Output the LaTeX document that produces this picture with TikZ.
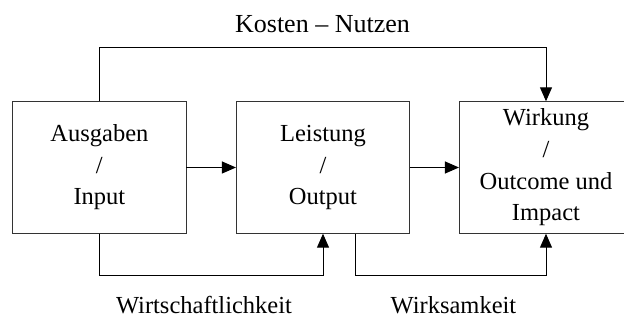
\documentclass[tikz,border=0pt]{standalone}
\usepackage{fontspec}
\setmainfont{Liberation Serif}
\usetikzlibrary{arrows.meta,calc}
\begin{document}
\begin{tikzpicture}[x=1pt,y=-1pt,
  box/.style={draw=black!80,line width=0.8pt,minimum width=173.3pt,minimum height=131.6pt,inner sep=0pt,align=center,font=\fontsize{24.5}{31.6}\selectfont},
  lbl/.style={anchor=base,inner sep=0pt,font=\fontsize{24.5}{30}\selectfont},
  conn/.style={line width=1pt,-{Triangle[length=14pt,width=12pt]}}]
\useasboundingbox (0,0) rectangle (624,320);
\clip (0,0) rectangle (624,320);
\node[box] (b1) at (99.4,167.5) {Ausgaben\\/\\Input};
\node[box] (b2) at (323,167.5) {Leistung\\/\\Output};
\node[box] (b3) at (546,167.5) {Wirkung\\/\\Outcome und\\Impact};
\node[lbl,font=\fontsize{26}{30}\selectfont] (kn) at (322.5,32.3) {Kosten – Nutzen};
\node[lbl] (wl) at (204,314) {Wirtschaftlichkeit};
\node[lbl] (wk) at (453.5,314) {Wirksamkeit};
\coordinate (topy) at (0,47.3);
\coordinate (boty) at (0,276);
\coordinate (b2o) at ($(b2.south)+(32,0)$);
\draw[conn] (b1.east) -- (b2.west);
\draw[conn] (b2.east) -- (b3.west);
\draw[conn] (b1.north) -- (b1.north |- topy) -- (b3.north |- topy) -- (b3.north);
\draw[conn] (b1.south) -- (b1.south |- boty) -- (b2.south |- boty) -- (b2.south);
\draw[conn] (b2o) -- (b2o |- boty) -- (b3.south |- boty) -- (b3.south);
\end{tikzpicture}
\end{document}
